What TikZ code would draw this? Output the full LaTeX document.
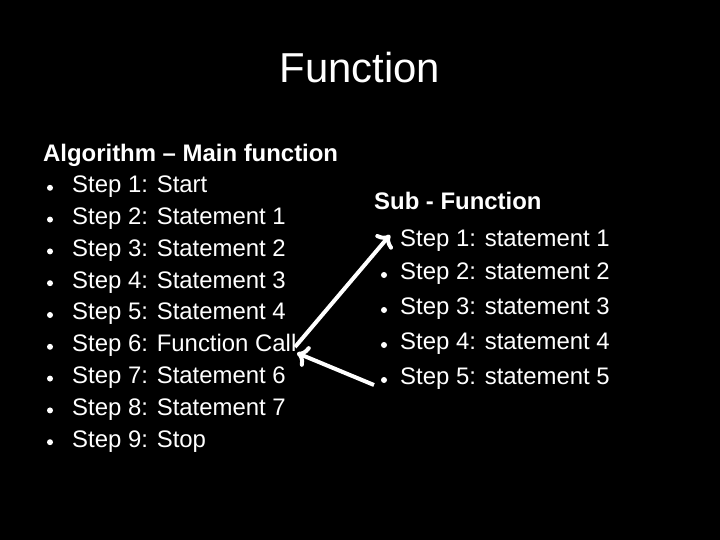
\documentclass[tikz,border=0pt]{standalone}
\usepackage{fontspec}
\setmainfont{Liberation Sans}
\usetikzlibrary{arrows.meta}
\begin{document}
\begin{tikzpicture}[x=1bp,y=-1bp,
  txt/.style={anchor=west,text=white,font=\fontsize{24}{28}\selectfont,inner sep=0pt},
  bul/.style={circle,fill=white,inner sep=0pt,minimum size=6bp},
  arr/.style={draw=white,line width=4bp,-{To[length=11bp,width=22bp,line width=4bp]}}]
\fill[black] (0,0) rectangle (720,540);
\node[text=white,font=\fontsize{42}{48}\selectfont,inner sep=0pt] (title) at (360,68) {Function};
\node[txt,font=\fontsize{24}{28}\selectfont\bfseries] (alg) at (43,155) {Algorithm -- Main function};
\foreach \t [count=\i] in {Start,Statement 1,Statement 2,Statement 3,Statement 4,Function Call,Statement 6,Statement 7,Stop}{
  \node[bul] (lb\i) at (50,{156+31.8*\i}) {};
  \node[txt] (l\i) at (72,{155+31.8*\i}) {Step \i: \t};
}
\node[txt,font=\fontsize{24}{28}\selectfont\bfseries] (sub) at (374,201) {Sub - Function};
\foreach \y [count=\i] in {241,274,309,344,379}{
  \ifnum\i>1 \node[bul] (rb\i) at (384,\y+1) {};\fi
  \node[txt] (r\i) at (400,\y) {Step \i: statement \i};
}
\coordinate (c1) at (295,347);
\coordinate (c2) at (297,353);
\coordinate (t1) at (390,235);
\coordinate (s5) at (374,385);
\draw[arr] (c1) -- (t1);
\draw[arr] (s5) -- (c2);
\end{tikzpicture}
\end{document}
